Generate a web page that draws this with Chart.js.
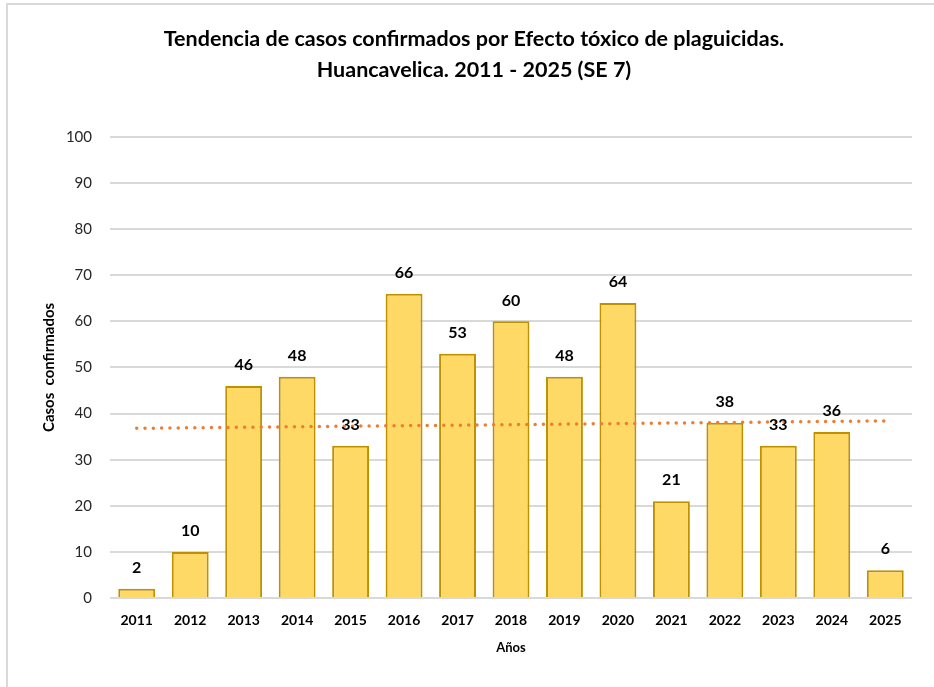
<!DOCTYPE html>
<html>
<head>
<meta charset="utf-8">
<script src="https://cdn.jsdelivr.net/npm/chart.js@4/dist/chart.umd.min.js"></script>
<style>
  html, body { margin: 0; padding: 0; background: #fff; }
  #wrap { width: 934px; height: 687px; }
</style>
</head>
<body>
<div id="wrap"><canvas id="casosChart" width="934" height="687"></canvas></div>
<script>
var years = ['2011', '2012', '2013', '2014', '2015', '2016', '2017', '2018', '2019', '2020', '2021', '2022', '2023', '2024', '2025'];
var casos = [2, 10, 46, 48, 33, 66, 53, 60, 48, 64, 21, 38, 33, 36, 6];
// linear trend, only its two ends are given, the line joins them
var tendencia = [36.8, null, null, null, null, null, null, null, null, null, null, null, null, null, 38.4];
var yTicks = [0, 10, 20, 30, 40, 50, 60, 70, 80, 90, 100];

var FONT = 'Lato, "Open Sans", sans-serif';

// white page with the light grey frame on the top and left
var frame = {
  id: 'frame',
  beforeDraw: function(chart){
    var ctx = chart.ctx;
    ctx.save();
    ctx.fillStyle = '#fff';
    ctx.fillRect(0, 0, chart.width, chart.height);
    ctx.strokeStyle = '#d9d9d9';
    ctx.lineWidth = 2;
    ctx.beginPath();
    ctx.moveTo(chart.width, 4);
    ctx.lineTo(7, 4);
    ctx.lineTo(7, chart.height);
    ctx.stroke();
    ctx.restore();
  }
};

// value written above each bar
var barLabels = {
  id: 'barLabels',
  afterDatasetsDraw: function(chart){
    var ctx = chart.ctx;
    var meta = chart.getDatasetMeta(1);
    ctx.save();
    ctx.font = 'bold 16px ' + FONT;
    ctx.fillStyle = '#000';
    ctx.textAlign = 'center';
    ctx.textBaseline = 'middle';
    meta.data.forEach(function(bar, i){
      ctx.fillText(String(casos[i]), bar.x, bar.y - 21);
    });
    ctx.restore();
  }
};

var ctx = document.getElementById('casosChart').getContext('2d');
var chart = new Chart(ctx, {
  type: 'bar',
  data: {
    labels: years,
    datasets: [
      {
        type: 'line',
        data: tendencia,
        spanGaps: true,
        borderColor: '#ED7D31',
        borderWidth: 3.5,
        borderDash: [0, 8.3],
        borderCapStyle: 'round',
        pointRadius: 0,
        order: 0
      },
      {
        data: casos,
        backgroundColor: '#FFD966',
        borderColor: '#BF9000',
        borderWidth: 2,
        barPercentage: 0.69,
        categoryPercentage: 1,
        order: 1
      }
    ]
  },
  options: {
    responsive: false,
    animation: false,
    layout: { padding: { left: 36, right: 22, top: 0, bottom: 27 } },
    plugins: {
      legend: { display: false },
      tooltip: { enabled: false },
      title: {
        display: true,
        text: ['Tendencia de casos confirmados por Efecto tóxico de plaguicidas.', 'Huancavelica. 2011 - 2025 (SE 7)'],
        color: '#000',
        font: { family: FONT, size: 21.5, weight: 'bold', lineHeight: 1.44 },
        padding: { top: 24, bottom: 51 }
      }
    },
    scales: {
      x: {
        grid: { display: false },
        border: { display: false },
        ticks: { color: '#000', font: { family: FONT, size: 14, weight: 'bold' }, padding: 6 },
        title: { display: true, text: 'Años', color: '#000', font: { family: FONT, size: 13, weight: 'bold' }, padding: { top: 10 } },
        afterFit: function(scale){ scale.height = 62; }
      },
      y: {
        min: 0,
        max: 100,
        afterBuildTicks: function(scale){ scale.ticks = yTicks.map(function(v){ return { value: v }; }); },
        grid: { color: '#d9d9d9', lineWidth: 2, drawTicks: false },
        border: { display: false },
        ticks: { color: '#262626', font: { family: FONT, size: 15 }, padding: 18 },
        title: { display: true, text: 'Casos  confirmados', color: '#000', font: { family: FONT, size: 15, weight: 'bold' }, padding: { bottom: 19 } },
        afterFit: function(scale){ scale.width = 74; }
      }
    }
  },
  plugins: [frame, barLabels]
});
</script>
</body>
</html>
